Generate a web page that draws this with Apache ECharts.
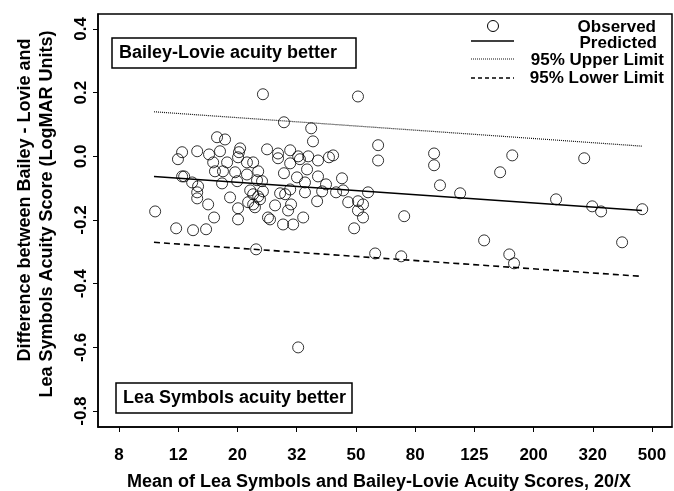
<!DOCTYPE html>
<html>
<head>
<meta charset="utf-8">
<script src="https://cdn.jsdelivr.net/npm/echarts@6/dist/echarts.min.js"></script>
<style>
html,body{margin:0;padding:0;background:#fff;}
#chart{width:674px;height:491px;}
</style>
</head>
<body>
<div id="chart"></div>
<script>
// x: mean acuity in logMAR units (axis labelled as Snellen 20/X); y: difference (logMAR)
var obsX = [
 -0.278,-0.207,-0.150,-0.187,-0.201,-0.136,-0.180,-0.187,-0.153,-0.133,-0.136,-0.136,-0.106,-0.096,-0.099,-0.082,-0.076,-0.079,-0.069,-0.042,-0.059,-0.049,-0.035,-0.052,-0.025,0.002,0.002,0.009,0.005,0.002,0.032,0.053,-0.008,-0.001,0.032,0.070,0.083,0.066,0.043,0.053,0.036,0.053,0.070,0.076,0.059,0.086,0.100,0.086,0.063,
 0.137,0.137,0.157,0.178,0.178,0.157,0.201,0.127,0.161,0.144,0.181,0.171,0.110,0.103,0.154,0.188,0.205,0.211,0.205,0.178,
 0.239,0.272,0.309,0.323,0.249,0.255,0.235,0.228,0.272,0.299,0.286,0.228,0.269,0.222,
 0.333,0.357,0.353,0.441,0.374,0.407,0.424,0.407,0.424,0.394,0.407,0.475,0.475,0.563,0.465,0.553,
 0.664,0.664,0.684,0.752,0.833,0.887,0.928,0.918,0.934,1.076,1.171,1.198,1.228,1.299,1.367
];
var obsY = [
 -0.173,-0.226,-0.232,0.013,-0.009,0.016,-0.063,-0.063,-0.082,-0.094,-0.113,-0.132,-0.229,0.006,-0.151,-0.019,-0.047,-0.192,0.060,0.053,0.016,-0.047,-0.019,-0.085,-0.129,-0.163,-0.198,0.025,0.013,-0.003,-0.019,-0.019,-0.050,-0.078,-0.057,-0.047,-0.078,-0.075,-0.107,-0.119,-0.144,-0.151,-0.126,-0.135,-0.160,-0.110,0.022,0.195,-0.292,
 0.009,-0.006,0.107,0.019,-0.022,-0.053,-0.066,-0.154,-0.119,-0.116,-0.151,-0.170,-0.198,-0.192,-0.214,-0.214,0.000,-0.009,-0.600,-0.104,
 0.000,-0.013,-0.003,0.003,0.088,0.047,-0.041,-0.082,-0.063,-0.088,-0.110,-0.113,-0.141,-0.192,
 -0.113,-0.107,-0.069,-0.113,-0.144,-0.141,-0.151,-0.170,-0.192,-0.226,0.188,0.035,-0.013,-0.188,-0.305,-0.314,
 0.009,-0.028,-0.091,-0.116,-0.264,-0.050,0.003,-0.308,-0.336,-0.135,-0.006,-0.157,-0.173,-0.270,-0.166
];
var lineX = [-0.282, 1.366];
var predictedY = [-0.063, -0.170];
var upperY = [0.140, 0.032];
var lowerY = [-0.270, -0.377];

var xTickValues = [-0.4,-0.2,0,0.2,0.4,0.6,0.8,1.0,1.2,1.4];
var xTickLabels = ['8','12','20','32','50','80','125','200','320','500'];
var yTickValues = [-0.8,-0.6,-0.4,-0.2,0,0.2,0.4];
var yTickLabels = ['-0.8','-0.6','-0.4','-0.2','0.0','0.2','0.4'];

var FONT = "'Liberation Sans', Arial, Helvetica, sans-serif";

function pairs(xs, ys){ return xs.map(function(x,i){ return [x, ys[i]]; }); }
function lookup(vals, labels, v){
  for (var i=0;i<vals.length;i++){ if (Math.abs(vals[i]-v)<1e-6) return labels[i]; }
  return '';
}

var chart = echarts.init(document.getElementById('chart'), null, {renderer:'canvas'});
var option = {
  animation: false,
  backgroundColor: '#fff',
  grid: { left: 98, right: 2, top: 14, bottom: 64, show: true, borderColor: '#000', borderWidth: 1.5, backgroundColor: 'transparent' },
  xAxis: {
    type: 'value', min: -0.471, max: 1.4675,
    splitLine: { show: false },
    axisLine: { show: true, onZero: false, lineStyle: { color: '#000', width: 1.5 } },
    axisTick: { show: true, length: 5, customValues: xTickValues, lineStyle: { color: '#000', width: 1 } },
    axisLabel: { customValues: xTickValues, margin: 20, color: '#000', fontFamily: FONT, fontWeight: 'bold', fontSize: 17,
      formatter: function(v){ return lookup(xTickValues, xTickLabels, v); } }
  },
  yAxis: {
    type: 'value', min: -0.85, max: 0.447,
    splitLine: { show: false },
    axisLine: { show: true, onZero: false, lineStyle: { color: '#000', width: 1.5 } },
    axisTick: { show: true, length: 5, customValues: yTickValues, lineStyle: { color: '#000', width: 1 } },
    axisLabel: { customValues: yTickValues, rotate: 90, margin: 8, color: '#000', fontFamily: FONT, fontWeight: 'bold', fontSize: 17,
      formatter: function(v){ return lookup(yTickValues, yTickLabels, v); } }
  },
  series: [
    { name: 'Observed', type: 'scatter', data: pairs(obsX, obsY), symbol: 'circle', symbolSize: 11,
      itemStyle: { color: 'rgba(0,0,0,0)', borderColor: '#000', borderWidth: 1 }, emphasis: { disabled: true }, z: 3 },
    { name: 'Predicted', type: 'line', data: pairs(lineX, predictedY), showSymbol: false, symbol: 'none',
      lineStyle: { color: '#000', width: 1.5, type: 'solid' }, z: 2 },
    { name: '95% Upper Limit', type: 'line', data: pairs(lineX, upperY), showSymbol: false, symbol: 'none',
      lineStyle: { color: '#111', width: 1.2, type: [1, 1] }, z: 2 },
    { name: '95% Lower Limit', type: 'line', data: pairs(lineX, lowerY), showSymbol: false, symbol: 'none',
      lineStyle: { color: '#000', width: 1.6, type: [6, 4] }, z: 2 }
  ],
  graphic: [
    // axis titles
    { type: 'text', x: 379, y: 482, style: { text: 'Mean of Lea Symbols and Bailey-Lovie Acuity Scores, 20/X', font: 'bold 18px ' + FONT, fill: '#000', align: 'center', verticalAlign: 'middle' } },
    { type: 'text', x: 25, y: 200, rotation: Math.PI/2, style: { text: 'Difference between Bailey - Lovie and', font: 'bold 18px ' + FONT, fill: '#000', align: 'center', verticalAlign: 'middle' } },
    { type: 'text', x: 47, y: 214, rotation: Math.PI/2, style: { text: 'Lea Symbols Acuity Score (LogMAR Units)', font: 'bold 18px ' + FONT, fill: '#000', align: 'center', verticalAlign: 'middle' } },
    // annotation boxes
    { type: 'rect', shape: { x: 112, y: 38, width: 244, height: 30 }, style: { fill: '#fff', stroke: '#000', lineWidth: 1.5 }, z: 10 },
    { type: 'text', x: 119, y: 53, style: { text: 'Bailey-Lovie acuity better', font: 'bold 18px ' + FONT, fill: '#000', align: 'left', verticalAlign: 'middle' }, z: 11 },
    { type: 'rect', shape: { x: 116, y: 383, width: 236, height: 30 }, style: { fill: '#fff', stroke: '#000', lineWidth: 1.5 }, z: 10 },
    { type: 'text', x: 123, y: 398, style: { text: 'Lea Symbols acuity better', font: 'bold 18px ' + FONT, fill: '#000', align: 'left', verticalAlign: 'middle' }, z: 11 },
    // legend
    { type: 'circle', shape: { cx: 493, cy: 26, r: 5.5 }, style: { fill: 'none', stroke: '#000', lineWidth: 1 }, z: 10 },
    { type: 'text', x: 656, y: 27, style: { text: 'Observed', font: 'bold 17px ' + FONT, fill: '#000', align: 'right', verticalAlign: 'middle' }, z: 10 },
    { type: 'line', shape: { x1: 471, y1: 41, x2: 514, y2: 41 }, style: { stroke: '#000', lineWidth: 1.5 }, z: 10 },
    { type: 'text', x: 657, y: 43, style: { text: 'Predicted', font: 'bold 17px ' + FONT, fill: '#000', align: 'right', verticalAlign: 'middle' }, z: 10 },
    { type: 'line', shape: { x1: 471, y1: 59, x2: 514, y2: 59 }, style: { stroke: '#111', lineWidth: 1.2, lineDash: [1, 1] }, z: 10 },
    { type: 'text', x: 664, y: 60, style: { text: '95% Upper Limit', font: 'bold 17px ' + FONT, fill: '#000', align: 'right', verticalAlign: 'middle' }, z: 10 },
    { type: 'line', shape: { x1: 471, y1: 78, x2: 514, y2: 78 }, style: { stroke: '#000', lineWidth: 1.5, lineDash: [4, 3] }, z: 10 },
    { type: 'text', x: 664, y: 78, style: { text: '95% Lower Limit', font: 'bold 17px ' + FONT, fill: '#000', align: 'right', verticalAlign: 'middle' }, z: 10 }
  ]
};
chart.setOption(option);
</script>
</body>
</html>
